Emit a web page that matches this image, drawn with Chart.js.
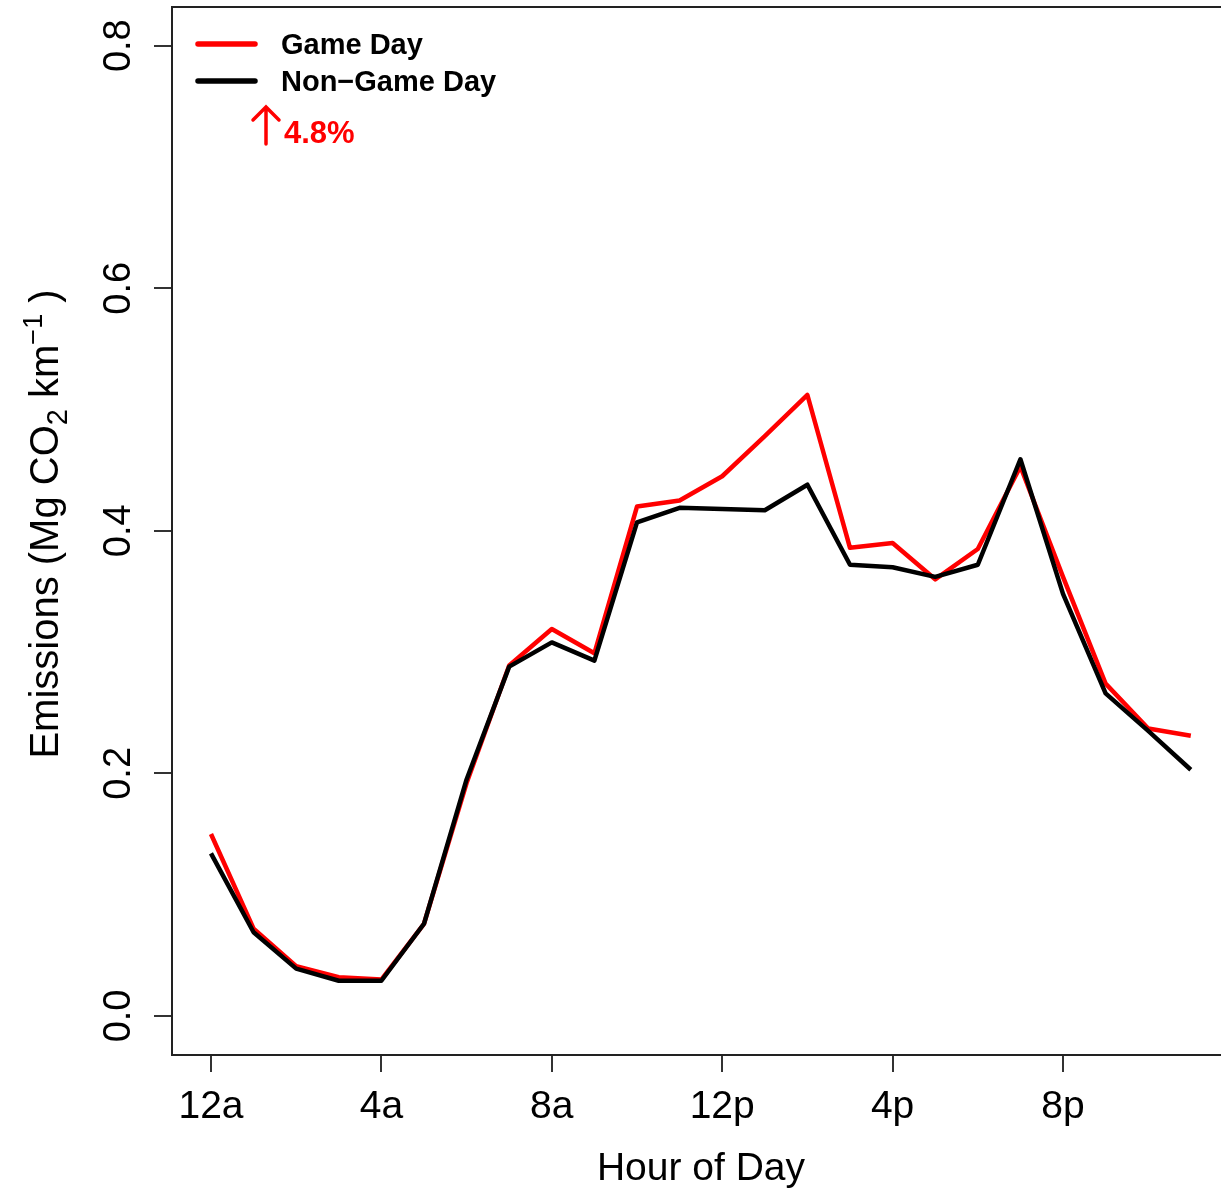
<!DOCTYPE html>
<html>
<head>
<meta charset="utf-8">
<script src="https://cdn.jsdelivr.net/npm/chart.js@4.4.1/dist/chart.umd.min.js"></script>
<style>
  html,body{margin:0;padding:0;background:#fff;overflow:hidden;}
  #wrap{width:1240px;height:1190px;}
</style>
</head>
<body>
<div id="wrap"><canvas id="emis"></canvas></div>
<script>
// -------- DATA ----------
const hours      = [0,1,2,3,4,5,6,7,8,9,10,11,12,13,14,15,16,17,18,19,20,21,22,23];
const gameDay    = [0.150,0.072,0.041,0.032,0.030,0.076,0.192,0.289,0.319,0.299,0.420,0.425,0.445,0.478,0.512,0.386,0.390,0.360,0.385,0.453,0.362,0.274,0.237,0.231];
const nonGameDay = [0.134,0.069,0.039,0.029,0.029,0.076,0.195,0.288,0.308,0.293,0.407,0.419,0.418,0.417,0.438,0.372,0.370,0.362,0.372,0.459,0.348,0.266,0.235,0.203];
const xTicks     = [0,4,8,12,16,20];
const xLabels    = ['12a','4a','8a','12p','4p','8p'];
const yTicks     = [0,0.2,0.4,0.6,0.8];
const yLabels    = ['0.0','0.2','0.4','0.6','0.8'];
const seriesNames = ['Game Day','Non\u2212Game Day'];
const changeNote = '4.8%';

const FONT = '"Liberation Sans", Arial, Helvetica, sans-serif';

// box round the plot (R style: box + ticks outside)
const boxPlugin = {
  id:'box',
  afterDraw(chart){
    const {ctx, chartArea:a} = chart;
    ctx.save();
    ctx.strokeStyle='#222';
    ctx.lineWidth=2;
    ctx.strokeRect(a.left, a.top, a.right-a.left, a.bottom-a.top);
    ctx.restore();
  }
};

// legend + arrow note, drawn in the top-left corner of the plot
const legendPlugin = {
  id:'rLegend',
  afterDraw(chart){
    const {ctx} = chart;
    const ds = chart.data.datasets;
    const rows = [44, 81];
    ctx.save();
    ctx.lineCap='round';
    ds.forEach((d,i)=>{
      ctx.strokeStyle=d.borderColor;
      ctx.lineWidth=5.5;
      ctx.beginPath(); ctx.moveTo(198, rows[i]); ctx.lineTo(255, rows[i]); ctx.stroke();
      ctx.fillStyle='#000';
      ctx.font='bold 29px '+FONT;
      ctx.textBaseline='middle';
      ctx.textAlign='left';
      ctx.fillText(d.label, 281, rows[i]+2);
    });
    // arrow up + percent
    ctx.strokeStyle='#ff0000';
    ctx.lineWidth=3.5;
    ctx.beginPath();
    ctx.moveTo(266,144); ctx.lineTo(266,108);
    ctx.moveTo(253,120); ctx.lineTo(266,107); ctx.lineTo(279,120);
    ctx.stroke();
    ctx.fillStyle='#ff0000';
    ctx.font='bold 31px '+FONT;
    ctx.textBaseline='alphabetic';
    ctx.fillText(changeNote, 284, 143);
    ctx.restore();
  }
};

// y title with subscript / superscript
const yTitlePlugin = {
  id:'yTitle',
  afterDraw(chart){
    const {ctx, chartArea:a} = chart;
    const parts = [
      {t:'Emissions (Mg CO', s:40, dy:0},
      {t:'2', s:29, dy:9},
      {t:' km', s:40, dy:0},
      {t:'\u22121', s:27, dy:-16},
      {t:' )', s:40, dy:0}
    ];
    ctx.save();
    let total = 0;
    parts.forEach(p=>{ ctx.font=p.s+'px '+FONT; p.w=ctx.measureText(p.t).width; total+=p.w; });
    ctx.translate(58, (a.top+a.bottom)/2 - 7);
    ctx.rotate(-Math.PI/2);
    ctx.fillStyle='#000';
    ctx.textBaseline='alphabetic';
    let x = -total/2;
    parts.forEach(p=>{
      ctx.font=p.s+'px '+FONT;
      ctx.fillText(p.t, x, p.dy);
      x += p.w;
    });
    ctx.restore();
  }
};

new Chart(document.getElementById('emis').getContext('2d'), {
  type:'line',
  data:{
    datasets:[
      {
        label:seriesNames[0],
        data:hours.map((h,i)=>({x:h, y:gameDay[i]})),
        borderColor:'#ff0000',
        borderWidth:4.5,
        pointRadius:0,
        borderJoinStyle:'round',
        tension:0,
        order:2
      },
      {
        label:seriesNames[1],
        data:hours.map((h,i)=>({x:h, y:nonGameDay[i]})),
        borderColor:'#000000',
        borderWidth:4.5,
        pointRadius:0,
        borderJoinStyle:'round',
        tension:0,
        order:1
      }
    ]
  },
  options:{
    responsive:true,
    maintainAspectRatio:false,
    animation:false,
    layout:{padding:{top:7,right:10,bottom:0,left:0}},
    plugins:{legend:{display:false}, tooltip:{enabled:false}},
    scales:{
      x:{
        type:'linear',
        min:-0.915, max:23.92,
        afterBuildTicks(s){ s.ticks = xTicks.map(v=>({value:v})); },
        afterFit(s){ s.height = 135; s.paddingLeft = 0; s.paddingRight = 0; },
        border:{display:false},
        grid:{drawOnChartArea:false, drawTicks:true, tickLength:17, tickColor:'#333', lineWidth:2},
        ticks:{
          color:'#000',
          font:{family:FONT, size:39},
          padding:12,
          maxRotation:0,
          callback:(v)=>{ const i=xTicks.indexOf(v); return i>=0 ? xLabels[i] : ''; }
        },
        title:{display:true, text:'Hour of Day', color:'#000', font:{family:FONT, size:39, lineHeight:1.05}, padding:{top:0,bottom:0}}
      },
      y:{
        type:'linear',
        min:-0.0322, max:0.8319,
        afterBuildTicks(s){ s.ticks = yTicks.map(v=>({value:v})); },
        afterFit(s){ s.width = 172; s.paddingTop = 0; s.paddingBottom = 0; },
        border:{display:false},
        grid:{drawOnChartArea:false, drawTicks:true, tickLength:18, tickColor:'#333', lineWidth:2},
        ticks:{
          color:'#000',
          font:{family:FONT, size:38},
          padding:8,
          minRotation:90, maxRotation:90,
          crossAlign:'center',
          callback:(v)=>{ const i=yTicks.indexOf(v); return i>=0 ? yLabels[i] : ''; }
        }
      }
    }
  },
  plugins:[boxPlugin, legendPlugin, yTitlePlugin]
});
</script>
</body>
</html>
